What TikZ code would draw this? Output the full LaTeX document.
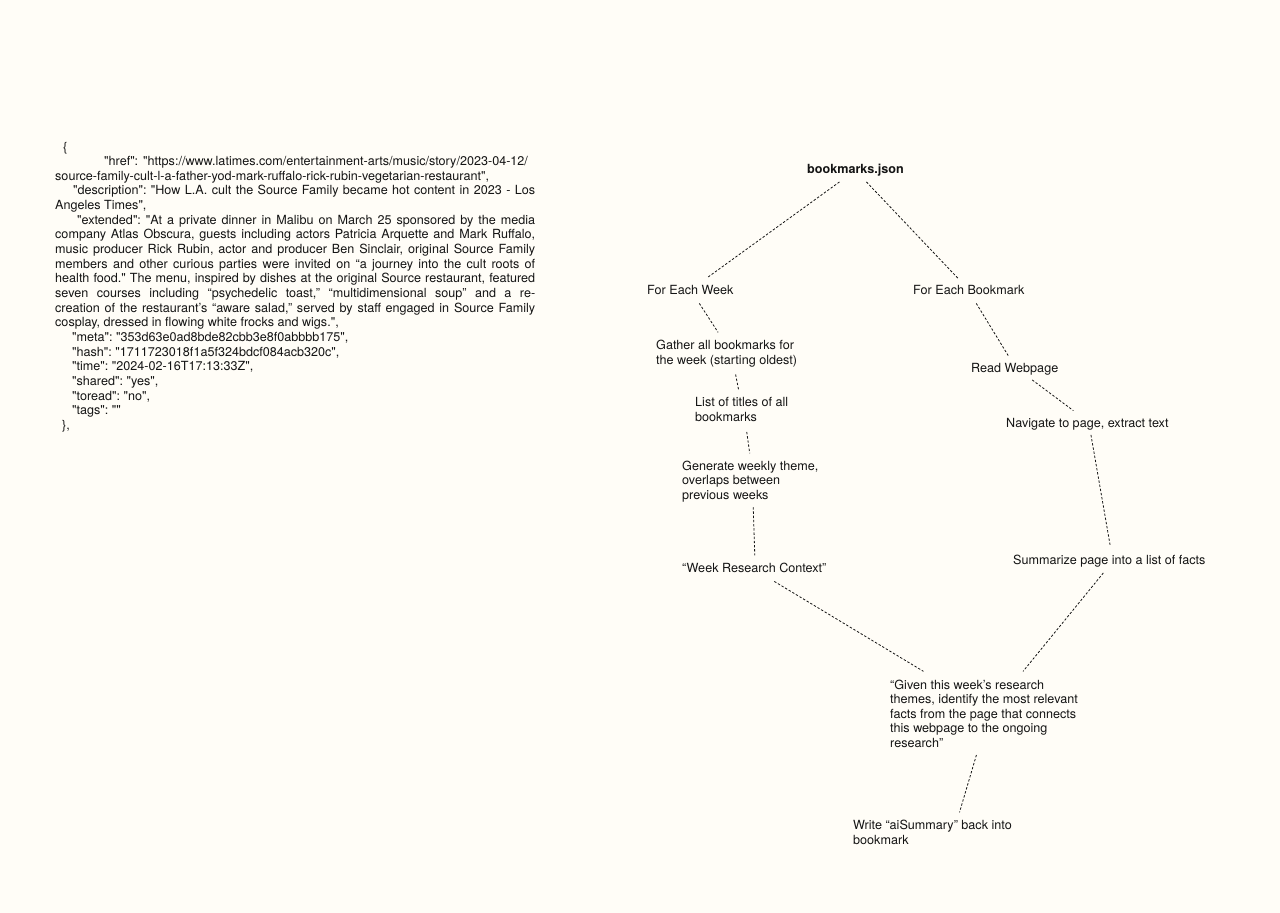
\documentclass[tikz,border=0pt]{standalone}
\usepackage{fontspec}
\newfontfamily\helv{TeX Gyre Heros}
\usetikzlibrary{positioning}
\definecolor{paper}{RGB}{255,253,247}
\definecolor{ink}{RGB}{20,20,20}

\begin{document}
\begin{tikzpicture}[x=1bp,y=-1bp,
    stage/.style={font={\helv\fontsize{12.6bp}{14.65bp}\selectfont}, text=ink, inner sep=0pt, align=left, anchor=base west},
    link/.style={draw=ink, line width=0.8bp, dash pattern=on 2.4bp off 1.8bp}]
    \fill[paper] (0,0) rectangle (1280,913);
    \useasboundingbox (0,0) rectangle (1280,913);
    % the bookmark record
    \node[stage] (record) at (55,151) {\begin{minipage}[t]{480bp}\setlength{\parindent}{0pt}\frenchspacing
      \hyphenpenalty=10000 \exhyphenpenalty=10000 \tolerance=10000
      \hspace*{8bp}\{\newline
      \hspace*{49bp}"href":\hspace{5bp}"https://www.latimes.com/entertainment-arts/music/story/2023-04-12/\newline
      source-family-cult-l-a-father-yod-mark-ruffalo-rick-rubin-vegetarian-restaurant",\newline
      \hspace*{18bp}"description": "How L.A. cult the Source Family became hot content in 2023 - Los\linebreak
      Angeles Times",\newline
      \hspace*{22bp}"extended": "At a private dinner in Malibu on March 25 sponsored by the media\linebreak
      company Atlas Obscura, guests including actors Patricia Arquette and Mark Ruffalo,\linebreak
      music producer Rick Rubin, actor and producer Ben Sinclair, original Source Family\linebreak
      members and other curious parties were invited on “a journey into the cult roots of\linebreak
      health food." The menu, inspired by dishes at the original Source restaurant, featured\linebreak
      seven courses including “psychedelic toast,” “multidimensional soup” and a re-\linebreak
      creation of the restaurant’s “aware salad,” served by staff engaged in Source Family\linebreak
      cosplay, dressed in flowing white frocks and wigs.",\newline
      \hspace*{17bp}"meta": "353d63e0ad8bde82cbb3e8f0abbbb175",\newline
      \hspace*{17bp}"hash": "1711723018f1a5f324bdcf084acb320c",\newline
      \hspace*{17bp}"time": "2024-02-16T17:13:33Z",\newline
      \hspace*{17bp}"shared": "yes",\newline
      \hspace*{17bp}"toread": "no",\newline
      \hspace*{17bp}"tags": ""\newline
      \hspace*{7bp}\},
    \end{minipage}};
    % the pipeline (multi-line nodes sit on their last baseline)
    \node[stage, font={\helv\fontsize{12.6bp}{14.65bp}\selectfont\bfseries}] (bm) at (807,173) {bookmarks.json};
    \node[stage] (week) at (647,294) {For Each Week};
    \node[stage] (each) at (913,294) {For Each Bookmark};
    \node[stage] (gather) at (656,364.6) {Gather all bookmarks for\\the week (starting oldest)};
    \node[stage] (read) at (971,372) {Read Webpage};
    \node[stage] (titles) at (695,421.6) {List of titles of all\\bookmarks};
    \node[stage] (nav) at (1006,427) {Navigate to page, extract text};
    \node[stage] (theme) at (682,499.3) {Generate weekly theme,\\overlaps between\\previous weeks};
    \node[stage] (facts) at (1013,564) {Summarize page into a list of facts};
    \node[stage] (context) at (682,572) {“Week Research Context”};
    \node[stage] (prompt) at (890,747.6) {“Given this week’s research\\themes, identify the most relevant\\facts from the page that connects\\this webpage to the ongoing\\research”};
    \node[stage] (write) at (853,844.6) {Write “aiSummary” back into\\bookmark};
    % connectors
    \draw[link] ([xshift=-16bp,yshift=-6bp]bm.south) -- ([xshift=17bp,yshift=7bp]week.north);
    \draw[link] ([xshift=11bp,yshift=-6bp]bm.south) -- ([xshift=-10.5bp,yshift=6bp]each.north);
    \draw[link] ([xshift=9bp,yshift=-9bp]week.south) -- ([xshift=-8.5bp,yshift=8bp]gather.north);
    \draw[link] ([xshift=7.5bp,yshift=-9bp]each.south) -- ([xshift=-6.5bp,yshift=7bp]read.north);
    \draw[link] ([xshift=9bp,yshift=-7bp]gather.south) -- ([xshift=-3bp,yshift=7bp]titles.north);
    \draw[link] ([xshift=17.5bp,yshift=-5bp]read.south) -- ([xshift=-14bp,yshift=7bp]nav.north);
    \draw[link] ([xshift=5bp,yshift=-10bp]titles.south) -- ([xshift=-0.5bp,yshift=7bp]theme.north);
    \draw[link] ([xshift=3.6bp,yshift=-5bp]nav.south) -- ([xshift=1bp,yshift=8bp]facts.north);
    \draw[link] ([xshift=3bp,yshift=-5bp]theme.south) -- ([xshift=0.5bp,yshift=7bp]context.north);
    \draw[link] ([xshift=20bp,yshift=-9bp]context.south) -- ([xshift=-60.5bp,yshift=8bp]prompt.north);
    \draw[link] ([xshift=-6bp,yshift=-6bp]facts.south) -- ([xshift=39bp,yshift=8bp]prompt.north);
    \draw[link] ([xshift=-7.6bp,yshift=-7bp]prompt.south) -- ([xshift=27bp,yshift=8bp]write.north);
\end{tikzpicture}
\end{document}
